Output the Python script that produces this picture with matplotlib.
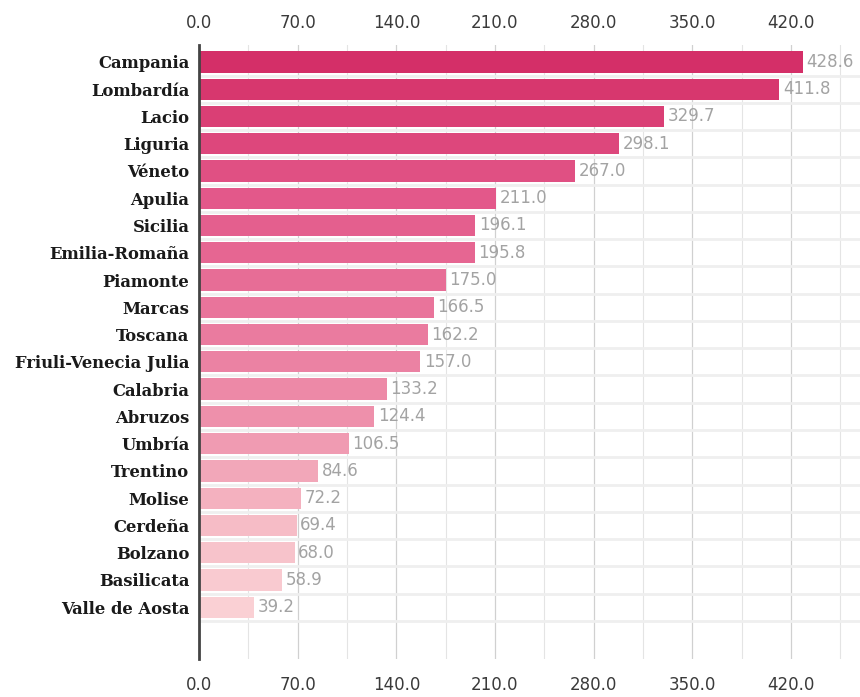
import matplotlib
matplotlib.use("Agg")
import matplotlib.pyplot as plt
import numpy as np
from matplotlib.colors import LinearSegmentedColormap
from matplotlib.ticker import MultipleLocator, FormatStrFormatter

regions = ["Campania", "Lombardía", "Lacio", "Liguria", "Véneto", "Apulia", "Sicilia",
           "Emilia-Romaña", "Piamonte", "Marcas", "Toscana", "Friuli-Venecia Julia",
           "Calabria", "Abruzos", "Umbría", "Trentino", "Molise", "Cerdeña", "Bolzano",
           "Basilicata", "Valle de Aosta"]
values = [428.6, 411.8, 329.7, 298.1, 267.0, 211.0, 196.1, 195.8, 175.0, 166.5, 162.2,
          157.0, 133.2, 124.4, 106.5, 84.6, 72.2, 69.4, 68.0, 58.9, 39.2]
x_ticks = [0, 70, 140, 210, 280, 350, 420]

W, H = 860, 697
fig = plt.figure(figsize=(W / 100, H / 100), dpi=100)
ax = fig.add_axes([199 / W, 1 - 659 / H, (W - 199) / W, (659 - 45) / H])

# pink ramp from the top-ranked bar down to the last one
cmap = LinearSegmentedColormap.from_list(
    "pinks",
    [(0.0, "#d42f68"), (0.25, "#e3588a"), (0.65, "#ee90ab"),
     (0.85, "#f6bcc6"), (1.0, "#fad0d4")])
n = len(regions)
colors = [cmap(i / (n - 1)) for i in range(n)]

y = np.arange(n)
ax.barh(y, values, height=0.78, color=colors, zorder=3)

for yi, v in zip(y, values):
    ax.text(v + 2.5, yi, f"{v:.1f}", va="center", ha="left", color="#a3a3a3",
            fontsize=12, family="DejaVu Sans", zorder=4)

ax.set_xlim(0, 469)
ax.set_ylim(n + 0.9, -0.62)

fmt = FormatStrFormatter("%.1f")
ax.xaxis.set_minor_locator(MultipleLocator(35))
ax.set_xticks(x_ticks)
ax.xaxis.set_major_formatter(fmt)
ax.tick_params(axis="x", which="both", length=0)
ax.tick_params(axis="x", which="major", labelsize=12, labelcolor="#3a3a3a", pad=12)
for lbl in ax.get_xticklabels():
    lbl.set_family("DejaVu Sans")

top = ax.secondary_xaxis("top")
top.set_xticks(x_ticks)
top.xaxis.set_major_formatter(fmt)
top.tick_params(axis="x", length=0, labelsize=12, labelcolor="#3a3a3a", pad=9)
for lbl in top.get_xticklabels():
    lbl.set_family("DejaVu Sans")
top.spines["top"].set_visible(False)

ax.set_yticks(y)
ax.set_yticklabels(regions, family="DejaVu Serif", fontweight="bold", fontsize=11.8,
                   color="#1a1a1a")
ax.tick_params(axis="y", which="major", length=0, pad=7)

ax.grid(axis="x", which="major", color="#d0d0d0", linewidth=0.9, zorder=0)
ax.grid(axis="x", which="minor", color="#e4e4e4", linewidth=0.8, zorder=0)
ax.set_yticks(y + 0.5, minor=True)
ax.grid(axis="y", which="minor", color="#efefef", linewidth=2, zorder=0)
ax.tick_params(axis="y", which="minor", length=0)

for s in ["top", "right", "bottom"]:
    ax.spines[s].set_visible(False)
ax.spines["left"].set_color("#444444")
ax.spines["left"].set_linewidth(2)
ax.spines["left"].set_zorder(5)

fig.savefig("out.png", dpi=100, facecolor="white")
